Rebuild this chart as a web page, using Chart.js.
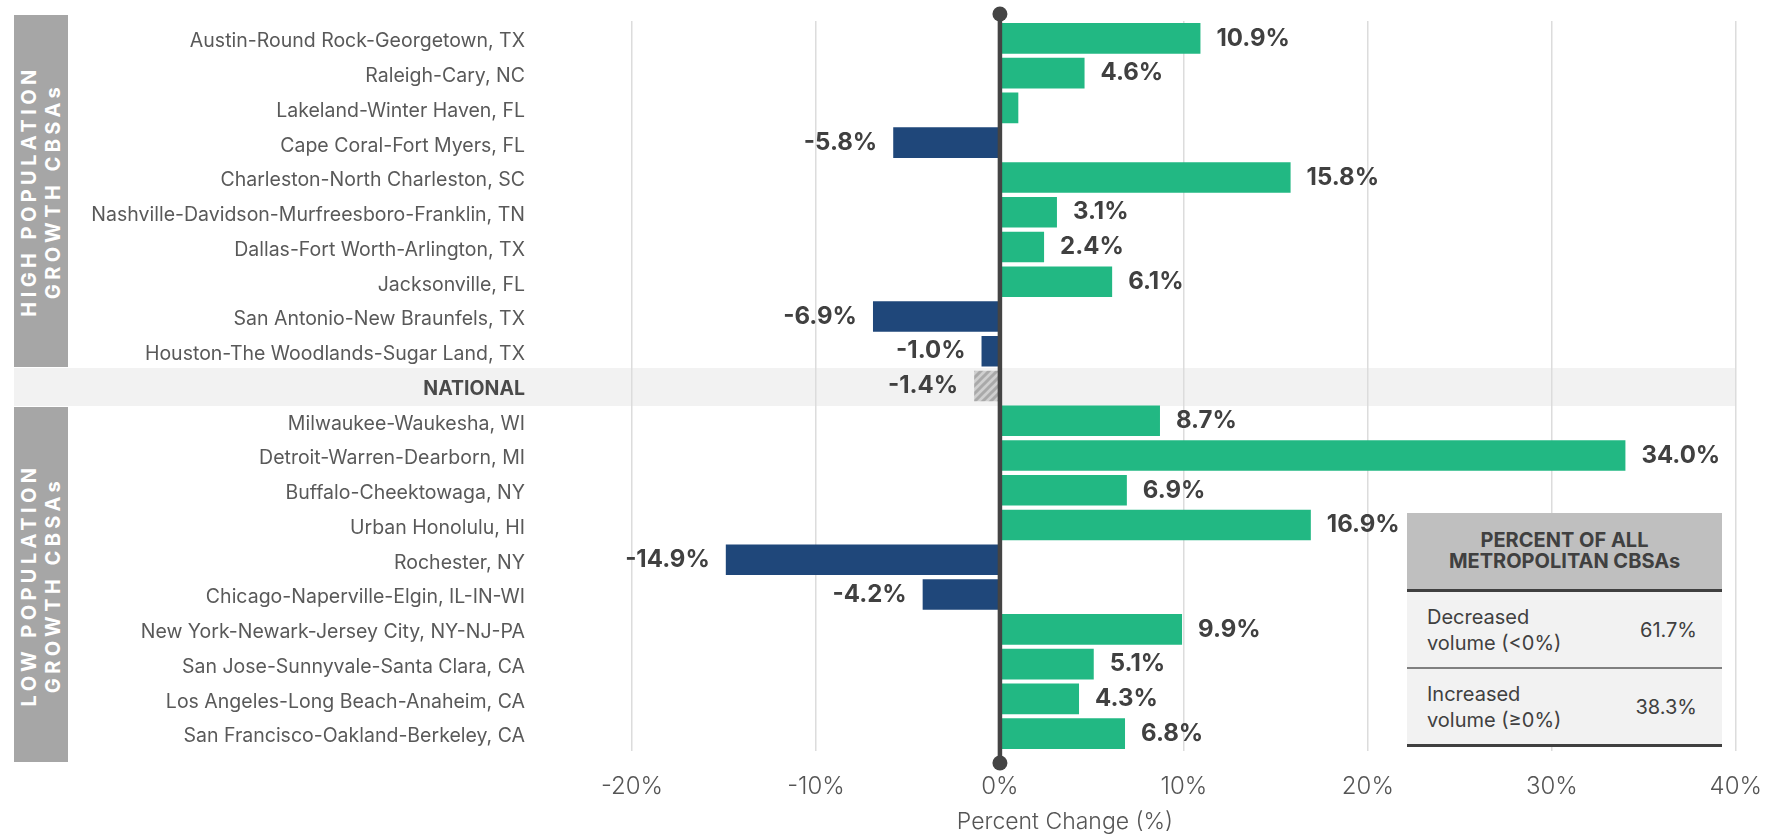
<!DOCTYPE html>
<html>
<head>
<meta charset="utf-8">
<script src="https://cdn.jsdelivr.net/npm/chart.js@4.4.0/dist/chart.umd.min.js"></script>
<style>
    html, body { margin: 0; padding: 0; background: #fff; }
    body { width: 1783px; height: 836px; position: relative; overflow: hidden; font-family: Inter, Lato, sans-serif; }
    #chart-wrap { position: absolute; left: 0; top: 0; width: 1783px; height: 836px; }
    .group-band { position: absolute; left: 14px; width: 54px; background: #a6a6a6; }
    .group-band span {
        position: absolute; left: 50%; top: 50%;
        transform: translate(-50%, -50%) rotate(-90deg);
        color: #fff; font-weight: 700; font-size: 20px; line-height: 24px;
        letter-spacing: 4.4px; white-space: nowrap; text-align: center;
    }
    .axis-title { position: absolute; left: 865px; width: 400px; top: 807px; text-align: center; font-size: 23px; font-weight: 300; color: #555; }
    #summary { position: absolute; left: 1407px; top: 513px; width: 315px; color: #404040; }
    #summary .head { background: #bfbfbf; height: 76px; display: flex; align-items: center; justify-content: center; text-align: center; font-weight: 700; font-size: 20px; line-height: 21px; border-bottom: 3px solid #404040; }
    #summary .row { background: #f2f2f2; height: 75px; display: flex; align-items: center; justify-content: space-between; padding: 0 25px 0 20px; font-size: 20px; line-height: 26px; }
    #summary .row.first { border-bottom: 2px solid #808080; }
    #summary .row.last { border-bottom: 3px solid #404040; }
</style>
</head>
<body>
<div id="chart-wrap"><canvas id="cbsa-chart"></canvas></div>
<div class="group-band" style="top:15px;height:352px;"><span>HIGH POPULATION<br>GROWTH CBSAs</span></div>
<div class="group-band" style="top:407px;height:355px;"><span>LOW POPULATION<br>GROWTH CBSAs</span></div>
<div class="axis-title">Percent Change (%)</div>
<div id="summary">
    <div class="head">PERCENT OF ALL<br>METROPOLITAN CBSAs</div>
    <div class="row first"><div>Decreased<br>volume (&lt;0%)</div><div id="pct-decreased"></div></div>
    <div class="row last"><div>Increased<br>volume (&ge;0%)</div><div id="pct-increased"></div></div>
</div>
<script>
// Chart data
const categories = [
    'Austin-Round Rock-Georgetown, TX',
    'Raleigh-Cary, NC',
    'Lakeland-Winter Haven, FL',
    'Cape Coral-Fort Myers, FL',
    'Charleston-North Charleston, SC',
    'Nashville-Davidson-Murfreesboro-Franklin, TN',
    'Dallas-Fort Worth-Arlington, TX',
    'Jacksonville, FL',
    'San Antonio-New Braunfels, TX',
    'Houston-The Woodlands-Sugar Land, TX',
    'NATIONAL',
    'Milwaukee-Waukesha, WI',
    'Detroit-Warren-Dearborn, MI',
    'Buffalo-Cheektowaga, NY',
    'Urban Honolulu, HI',
    'Rochester, NY',
    'Chicago-Naperville-Elgin, IL-IN-WI',
    'New York-Newark-Jersey City, NY-NJ-PA',
    'San Jose-Sunnyvale-Santa Clara, CA',
    'Los Angeles-Long Beach-Anaheim, CA',
    'San Francisco-Oakland-Berkeley, CA'
];
const percentChange = [10.9, 4.6, 1.0, -5.8, 15.8, 3.1, 2.4, 6.1, -6.9, -1.0, -1.4,
                       8.7, 34.0, 6.9, 16.9, -14.9, -4.2, 9.9, 5.1, 4.3, 6.8];
const unlabeled = ['Lakeland-Winter Haven, FL'];
const nationalLabel = 'NATIONAL';
const xTicks = [-20, -10, 0, 10, 20, 30, 40];
const summaryLabels = ['Decreased volume (<0%)', 'Increased volume (\u22650%)'];
const summaryValues = [61.7, 38.3];

document.getElementById('pct-decreased').textContent = summaryValues[0].toFixed(1) + '%';
document.getElementById('pct-increased').textContent = summaryValues[1].toFixed(1) + '%';

// Hatched fill for the national bar
function makeHatch() {
    const c = document.createElement('canvas');
    c.width = 8; c.height = 8;
    const g = c.getContext('2d');
    g.fillStyle = '#cfcfcf';
    g.fillRect(0, 0, 8, 8);
    g.strokeStyle = '#a9a9a9';
    g.lineWidth = 3;
    g.beginPath();
    g.moveTo(-4, 4); g.lineTo(4, -4);
    g.moveTo(0, 8); g.lineTo(8, 0);
    g.moveTo(4, 12); g.lineTo(12, 4);
    g.stroke();
    return g.createPattern(c, 'repeat');
}
const hatch = makeHatch();

const barColors = categories.map((name, i) => {
    if (name === nationalLabel) return hatch;
    return percentChange[i] < 0 ? '#1f477a' : '#22b883';
});

// National row band behind the grid
const nationalBand = {
    id: 'nationalBand',
    beforeDraw(chart) {
        const ctx = chart.ctx;
        const y = chart.scales.y.getPixelForValue(categories.indexOf(nationalLabel));
        ctx.save();
        ctx.fillStyle = '#f2f2f2';
        ctx.fillRect(14, y - 18, chart.chartArea.right - 14, 38);
        ctx.restore();
    }
};

// Zero line with end dots, and value labels
const zeroLineAndLabels = {
    id: 'zeroLineAndLabels',
    afterDatasetsDraw(chart) {
        const ctx = chart.ctx;
        const x0 = chart.scales.x.getPixelForValue(0);
        const top = 14;
        const bottom = chart.chartArea.bottom + 12;
        ctx.save();
        ctx.strokeStyle = '#444';
        ctx.fillStyle = '#444';
        ctx.lineWidth = 4.5;
        ctx.beginPath();
        ctx.moveTo(x0, top);
        ctx.lineTo(x0, bottom);
        ctx.stroke();
        [top, bottom].forEach(y => {
            ctx.beginPath();
            ctx.arc(x0, y, 7.5, 0, Math.PI * 2);
            ctx.fill();
        });

        ctx.font = 'bold 24px Inter';
        ctx.fillStyle = '#404040';
        ctx.textBaseline = 'middle';
        const meta = chart.getDatasetMeta(0);
        meta.data.forEach((bar, i) => {
            if (unlabeled.includes(categories[i])) return;
            const v = percentChange[i];
            const text = v.toFixed(1) + '%';
            if (v >= 0) {
                ctx.textAlign = 'left';
                ctx.fillText(text, bar.x + 16, bar.y);
            } else {
                ctx.textAlign = 'right';
                ctx.fillText(text, bar.x - 16, bar.y);
            }
        });
        ctx.restore();
    }
};

const ctx = document.getElementById('cbsa-chart').getContext('2d');
new Chart(ctx, {
    type: 'bar',
    data: {
        labels: categories,
        datasets: [{
            data: percentChange,
            backgroundColor: barColors,
            borderWidth: 0,
            barPercentage: 0.88,
            categoryPercentage: 1.0
        }]
    },
    options: {
        indexAxis: 'y',
        responsive: true,
        maintainAspectRatio: false,
        animation: false,
        layout: { padding: { top: 21, right: 43, left: 0, bottom: 0 } },
        plugins: {
            legend: { display: false },
            tooltip: { enabled: false }
        },
        scales: {
            x: {
                type: 'linear',
                min: -25,
                max: 40,
                afterBuildTicks: function(scale) {
                    scale.ticks = xTicks.map(v => ({ value: v }));
                },
                afterFit: function(scale) { scale.height = 85; },
                grid: { color: '#dcdcdc', lineWidth: 1.5, drawTicks: false },
                border: { display: false },
                ticks: {
                    padding: 21,
                    color: '#555',
                    font: { family: 'Inter', size: 24, weight: '300' },
                    callback: function(value) { return value + '%'; }
                }
            },
            y: {
                type: 'category',
                afterFit: function(scale) {
                    scale.width = 540;
                    scale.paddingTop = 0;
                    scale.paddingBottom = 0;
                },
                grid: { display: false, drawTicks: false },
                border: { display: false },
                ticks: {
                    padding: 15,
                    labelOffset: 3,
                    autoSkip: false,
                    color: function(c) { return categories[c.index] === nationalLabel ? '#4a4a4a' : '#595959'; },
                    font: function(c) {
                        return categories[c.index] === nationalLabel
                            ? { family: 'Inter', size: 19.5, weight: 'bold' }
                            : { family: 'Inter', size: 19.5, weight: 'normal' };
                    }
                }
            }
        }
    },
    plugins: [nationalBand, zeroLineAndLabels]
});
</script>
</body>
</html>
